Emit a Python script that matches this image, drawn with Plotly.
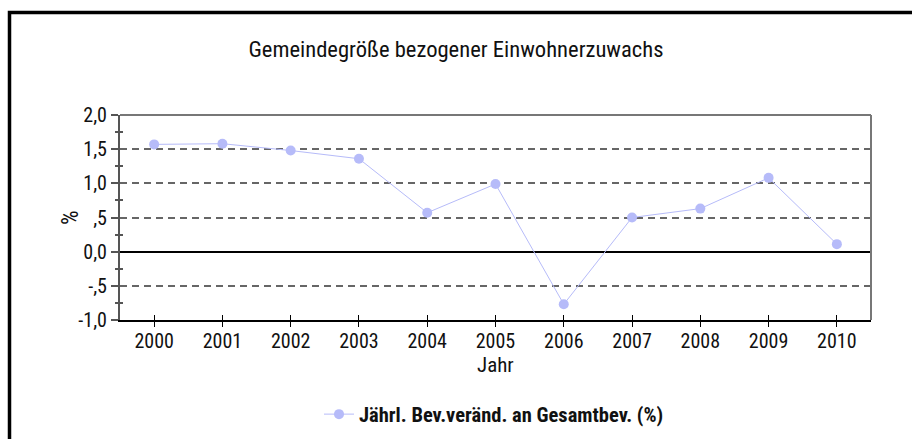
import plotly.graph_objects as go

# ---- data ----
years = [2000, 2001, 2002, 2003, 2004, 2005, 2006, 2007, 2008, 2009, 2010]
change_pct = [1.57, 1.58, 1.48, 1.36, 0.57, 0.99, -0.77, 0.50, 0.63, 1.08, 0.11]
series_name = "Jährl. Bev.veränd. an Gesamtbev. (%)"
title_text = "Gemeindegröße bezogener Einwohnerzuwachs"
y_tickvals = [-1.0, -0.5, 0.0, 0.5, 1.0, 1.5, 2.0]
y_ticktext = ["-1,0", "-,5", "0,0", ",5", "1,0", "1,5", "2,0"]
y_minorvals = [-0.75, -0.25, 0.25, 0.75, 1.25, 1.75]
x_label = "Jahr"
y_label = "%"

FONT = "Roboto Condensed, Liberation Sans Narrow, sans-serif"
COLOR = "#b6bbf9"
TXT = "#111"

fig = go.Figure()
fig.add_trace(go.Scatter(
    x=years, y=change_pct, mode="lines+markers", name=series_name,
    line=dict(color=COLOR, width=1), marker=dict(color=COLOR, size=10),
))
# helper trace for overlaid axes (crossing ticks)
fig.add_trace(go.Scatter(x=[years[0]], y=[None], xaxis="x2", yaxis="y2",
                         mode="markers", marker=dict(opacity=0),
                         showlegend=False, hoverinfo="skip"))

xr = [years[0] - 0.5, years[-1] + 0.5]
yr = [-1.0, 2.0]

fig.update_layout(
    width=912, height=439,
    margin=dict(l=120, r=41, t=115, b=119, autoexpand=False),
    paper_bgcolor="white", plot_bgcolor="white",
    font=dict(family=FONT, size=20, color=TXT),
    title=dict(text=title_text, x=0.5, xanchor="center", y=1 - 49 / 439,
               yanchor="middle", yref="container",
               font=dict(family=FONT, size=22.6, color=TXT)),
    showlegend=True,
    legend=dict(orientation="h", x=0.498, xanchor="center", y=-0.46,
                yanchor="middle",
                font=dict(family=FONT, size=20.5, color=TXT, weight="bold"),
                bgcolor="rgba(0,0,0,0)"),
    xaxis=dict(range=xr, tickvals=years, ticktext=[str(y) for y in years],
               showgrid=False, zeroline=False, showline=True, linecolor="black",
               linewidth=1.5, ticks="outside", ticklen=5, tickcolor="black",
               tickwidth=1, ticklabelstandoff=-3,
               tickfont=dict(family=FONT, size=20, color=TXT)),
    yaxis=dict(range=yr, tickvals=y_tickvals, ticktext=y_ticktext,
               showgrid=True, gridcolor="#666", gridwidth=1.5, griddash="7px,5px",
               zeroline=True, zerolinecolor="black", zerolinewidth=1.5,
               showline=True, linecolor="#555", linewidth=2,
               ticks="outside", ticklen=7, tickcolor="#555", tickwidth=1.5,
               minor=dict(tickvals=y_minorvals, ticks="outside", ticklen=3,
                          tickcolor="#555", tickwidth=1.5, showgrid=False),
               tickfont=dict(family=FONT, size=20, color=TXT)),
    xaxis2=dict(range=xr, overlaying="x", anchor="y2", side="bottom",
                tickvals=years, showticklabels=False, showgrid=False,
                zeroline=False, showline=False, ticks="inside", ticklen=5,
                tickcolor="black", tickwidth=1),
    yaxis2=dict(range=yr, overlaying="y", anchor="x2", side="left",
                tickvals=y_tickvals, showticklabels=False, showgrid=False,
                zeroline=False, showline=False, ticks="",
                minor=dict(tickvals=y_minorvals, ticks="inside", ticklen=3,
                           tickcolor="#555", tickwidth=1.5, showgrid=False)),
    annotations=[
        dict(text=y_label, xref="paper", yref="paper", x=(70 - 120) / 751,
             y=(320 - 218) / 205, xanchor="center", yanchor="middle",
             textangle=-90, showarrow=False,
             font=dict(family=FONT, size=23, color=TXT)),
        dict(text=x_label, xref="paper", yref="paper", x=(495 - 120) / 751,
             y=(320 - 365) / 205, xanchor="center", yanchor="middle",
             showarrow=False, font=dict(family=FONT, size=21, color=TXT)),
    ],
    shapes=[
        dict(type="line", xref="paper", yref="paper", x0=0, x1=1, y0=1, y1=1,
             line=dict(color="#777", width=2)),
        dict(type="line", xref="paper", yref="paper", x0=1, x1=1, y0=0, y1=1,
             line=dict(color="#777", width=2)),
        dict(type="rect", xref="paper", yref="paper",
             x0=(9.5 - 120) / 751, x1=1.3, y0=-0.8, y1=(320 - 12.5) / 205,
             line=dict(color="black", width=3.5), fillcolor="rgba(0,0,0,0)"),
    ],
)

fig.write_html("out.html", config={"displayModeBar": False},
               post_script="document.body.style.margin='0';")
